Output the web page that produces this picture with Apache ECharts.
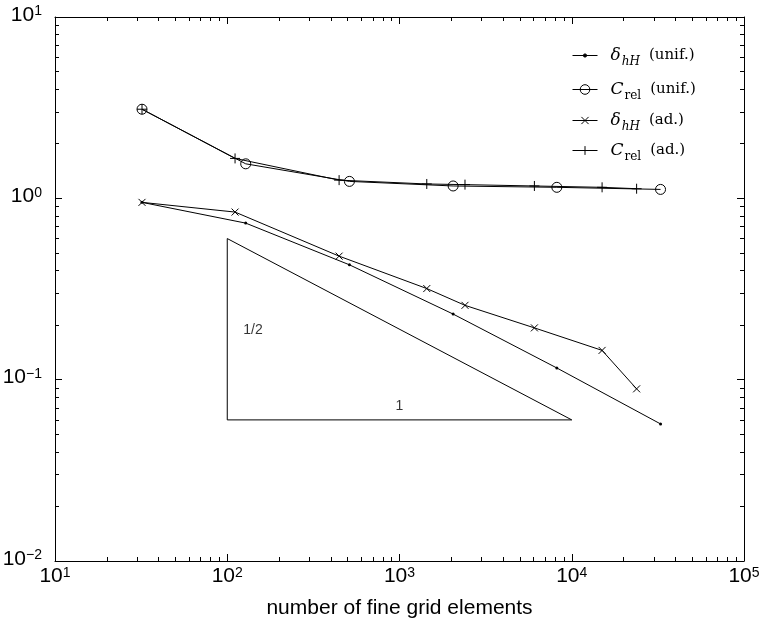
<!DOCTYPE html>
<html>
<head>
<meta charset="utf-8">
<script src="https://cdn.jsdelivr.net/npm/echarts@6/dist/echarts.min.js"></script>
<style>
  html, body { margin: 0; padding: 0; background: #fff; }
  #chart { width: 760px; height: 625px; }
</style>
</head>
<body>
<div id="chart"></div>
<script>
// x = number of fine grid elements
const xUnif = [32, 128, 512, 2048, 8192, 32768];
const deltaUnif = [0.95, 0.73, 0.43, 0.23, 0.116, 0.057];
const crelUnif = [3.1, 1.55, 1.24, 1.17, 1.15, 1.12];
const xAd = [32, 111, 446, 1440, 2400, 6070, 15000, 23800];
const deltaAd = [0.95, 0.84, 0.48, 0.318, 0.257, 0.193, 0.145, 0.089];
const crelAd = [3.1, 1.66, 1.26, 1.2, 1.19, 1.17, 1.15, 1.13];

// slope triangle + its labels
const triX = [100, 100, 10000, 100];
const triY = [0.6, 0.06, 0.06, 0.6];
const noteText = ['1/2', '1'];
const noteX = [141, 1000];
const noteY = [0.187, 0.071];

// decade ticks
const xTicks = [10, 100, 1000, 10000, 100000];
const yTicks = [0.01, 0.1, 1, 10];

const seriesNames = ['dUnif', 'cUnif', 'dAd', 'cAd'];
const legendText = {
    dUnif: '{it|δ}{sub|hH}{rm|(unif.)}',
    cUnif: '{it|C}{subr|rel}{rm|(unif.)}',
    dAd: '{it|δ}{sub|hH}{rm|(ad.)}',
    cAd: '{it|C}{subr|rel}{rm|(ad.)}'
};

function minorOf(ticks) {
    let out = [];
    for (let i = 0; i < ticks.length - 1; i++) {
        for (let k = 2; k <= 9; k++) out.push(+(ticks[i] * k).toPrecision(6));
    }
    return out;
}
function zip(xs, ys) { return xs.map((x, i) => [x, ys[i]]); }

const black = '#000';
const sans = 'Liberation Sans';
const serif = 'DejaVu Serif';

const powRich = {
    b: { fontFamily: sans, fontSize: 21, color: black, lineHeight: 21, verticalAlign: 'bottom' },
    s: { fontFamily: sans, fontSize: 14, color: black, lineHeight: 14, verticalAlign: 'top', padding: [0, 0, 13, 0] }
};
function powLabel(v) {
    const e = Math.round(Math.log10(v));
    return '{b|10}{s|' + (e < 0 ? '\u2212' + (-e) : e) + '}';
}

function makeAxis(kind, pos, minor) {
    const isX = kind === 'x';
    const ticks = isX ? xTicks : yTicks;
    const ax = {
        type: 'log',
        logBase: 10,
        min: ticks[0],
        max: ticks[ticks.length - 1],
        position: pos,
        axisLine: { show: !minor, onZero: false, lineStyle: { color: black, width: 1 } },
        axisTick: {
            show: true, inside: true, length: minor ? 4 : 7,
            customValues: minor ? minorOf(ticks) : ticks,
            lineStyle: { color: black, width: 1 }
        },
        axisLabel: { show: false },
        splitLine: { show: false }
    };
    if (!minor && (pos === 'bottom' || pos === 'left')) {
        ax.axisLabel = {
            show: true,
            customValues: ticks,
            margin: isX ? 5 : 13,
            padding: isX ? 0 : [0, 0, 4, 0],
            formatter: powLabel,
            rich: powRich
        };
    }
    if (isX && !minor && pos === 'bottom') {
        ax.name = 'number of fine grid elements';
        ax.nameLocation = 'middle';
        ax.nameGap = 37;
        ax.nameTextStyle = { fontFamily: sans, fontSize: 21, color: black };
    }
    return ax;
}

// legend: one block per entry so each marker gets its own size
const legendRich = {
    it: { fontFamily: serif, fontStyle: 'italic', fontSize: 17, color: black, lineHeight: 24, verticalAlign: 'middle' },
    sub: { fontFamily: serif, fontStyle: 'italic', fontSize: 12, color: black, lineHeight: 10, verticalAlign: 'bottom', padding: [0, 0, 0, 1] },
    subr: { fontFamily: serif, fontSize: 12, color: black, lineHeight: 10, verticalAlign: 'bottom', padding: [0, 0, 0, 1] },
    rm: { fontFamily: serif, fontSize: 15, color: black, lineHeight: 24, verticalAlign: 'middle', padding: [0, 0, 0, 9] }
};
const legendRowMid = [53, 87, 118, 148];
const legendIconH = [4, 12, 9, 11];
const legends = seriesNames.map((n, i) => ({
    left: 572,
    top: legendRowMid[i] - 6,
    padding: 0,
    itemWidth: 25,
    itemHeight: legendIconH[i],
    selectedMode: false,
    data: [n],
    formatter: nm => legendText[nm],
    lineStyle: { width: 1, color: black },
    itemStyle: { borderWidth: 1, borderColor: black },
    textStyle: { color: black, padding: [0, 0, 0, 8], rich: legendRich }
}));

const lineBase = {
    type: 'line',
    xAxisIndex: 0,
    yAxisIndex: 0,
    showAllSymbol: true,
    lineStyle: { color: black, width: 1 },
    emphasis: { disabled: true }
};

const option = {
    animation: false,
    backgroundColor: '#fff',
    grid: { left: 55, right: 16, top: 17, bottom: 64, containLabel: false, outerBoundsMode: 'none' },
    legend: legends,
    xAxis: [makeAxis('x', 'bottom', false), makeAxis('x', 'bottom', true), makeAxis('x', 'top', false), makeAxis('x', 'top', true)],
    yAxis: [makeAxis('y', 'left', false), makeAxis('y', 'left', true), makeAxis('y', 'right', false), makeAxis('y', 'right', true)],
    series: [
        Object.assign({}, lineBase, {
            name: 'dUnif', data: zip(xUnif, deltaUnif),
            symbol: 'circle', symbolSize: 3,
            itemStyle: { color: black }
        }),
        Object.assign({}, lineBase, {
            name: 'cUnif', data: zip(xUnif, crelUnif),
            symbol: 'circle', symbolSize: 10,
            itemStyle: { color: 'rgba(0,0,0,0)', borderColor: black, borderWidth: 1 }
        }),
        Object.assign({}, lineBase, {
            name: 'dAd', data: zip(xAd, deltaAd),
            symbol: 'path://M0,0L10,10M10,0L0,10', symbolSize: 7,
            itemStyle: { color: 'rgba(0,0,0,0)', borderColor: black, borderWidth: 1 }
        }),
        Object.assign({}, lineBase, {
            name: 'cAd', data: zip(xAd, crelAd),
            symbol: 'path://M5,0L5,10M0,5L10,5', symbolSize: 10,
            itemStyle: { color: 'rgba(0,0,0,0)', borderColor: black, borderWidth: 1 }
        }),
        Object.assign({}, lineBase, {
            name: 'triangle', data: zip(triX, triY),
            symbol: 'none', silent: true
        }),
        {
            type: 'scatter',
            name: 'notes',
            data: zip(noteX, noteY),
            symbolSize: 0,
            silent: true,
            label: {
                show: true, position: 'inside',
                formatter: p => noteText[p.dataIndex],
                fontFamily: sans, fontSize: 14, color: black
            }
        }
    ]
};

const chart = echarts.init(document.getElementById('chart'));
chart.setOption(option);
</script>
</body>
</html>
